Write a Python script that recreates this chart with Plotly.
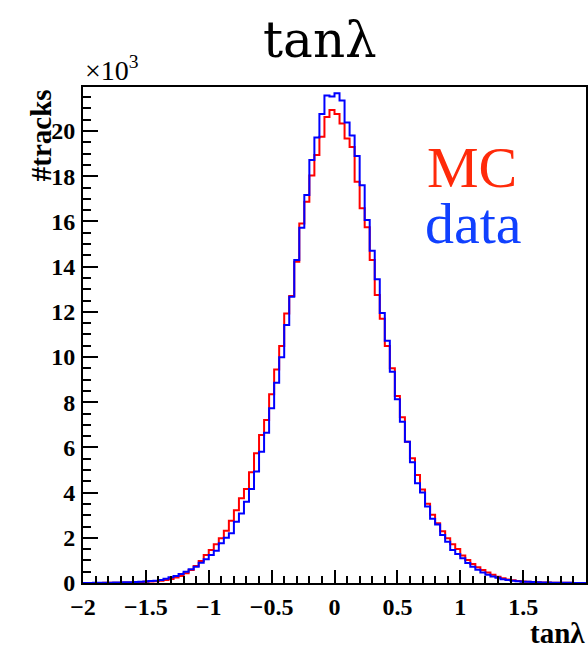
import numpy as np
import plotly.graph_objects as go

# histogram: 100 bins from -2 to 2, counts in units of 10^3 tracks
x_min = -2.0
x_max = 2.0
n_bins = 100

mc_counts = [
    0.002, 0.003, 0.004, 0.005, 0.007, 0.009, 0.012, 0.016, 0.02, 0.026,
    0.034, 0.044, 0.055, 0.065, 0.08, 0.10, 0.13, 0.18, 0.24, 0.31,
    0.43, 0.58, 0.75, 0.97, 1.24, 1.46, 1.71, 1.98, 2.31, 2.76,
    3.22, 3.75, 4.16, 4.90, 5.74, 6.55, 7.21, 8.35, 9.45, 10.49,
    11.93, 12.70, 14.22, 15.91, 16.87, 18.03, 18.94, 19.75, 20.62, 20.93,
    20.76, 20.34, 19.67, 19.30, 17.76, 16.58, 15.74, 14.29, 12.74, 11.69,
    10.49, 9.50, 8.28, 7.33, 6.25, 5.52, 4.78, 4.14, 3.51, 3.02,
    2.64, 2.29, 1.98, 1.72, 1.51, 1.22, 1.02, 0.84, 0.70, 0.57,
    0.46, 0.37, 0.28, 0.21, 0.16, 0.12, 0.09, 0.07, 0.055, 0.042,
    0.033, 0.026, 0.02, 0.016, 0.012, 0.009, 0.007, 0.005, 0.004, 0.003,
]

data_counts = [
    0.004, 0.005, 0.006, 0.008, 0.01, 0.013, 0.017, 0.022, 0.028, 0.036,
    0.045, 0.057, 0.07, 0.085, 0.10, 0.13, 0.19, 0.25, 0.31, 0.40,
    0.50, 0.61, 0.72, 0.90, 1.05, 1.24, 1.43, 1.76, 2.00, 2.20,
    2.71, 3.08, 3.60, 4.16, 4.93, 5.81, 6.65, 7.73, 8.86, 9.99,
    11.42, 12.67, 14.29, 15.72, 17.17, 18.72, 19.72, 20.76, 21.57, 21.53,
    21.67, 21.35, 20.38, 19.80, 18.90, 17.60, 16.06, 14.70, 13.44, 11.95,
    10.72, 9.35, 8.13, 7.14, 6.25, 5.34, 4.41, 4.00, 3.38, 2.84,
    2.59, 2.12, 1.83, 1.46, 1.28, 1.09, 0.88, 0.72, 0.59, 0.47,
    0.37, 0.29, 0.23, 0.17, 0.13, 0.10, 0.08, 0.06, 0.05, 0.04,
    0.03, 0.024, 0.019, 0.015, 0.011, 0.009, 0.007, 0.005, 0.004, 0.003,
]

y_max = 21.95

edges = np.linspace(x_min, x_max, n_bins + 1)

def steps(vals):
    return list(vals) + [vals[-1]]

SERIF = "Liberation Serif"

fig = go.Figure()
fig.add_trace(go.Scatter(x=edges, y=steps(mc_counts), mode="lines",
                         line=dict(color="#ff0000", width=2, shape="hv"),
                         name="MC", showlegend=False, hoverinfo="skip"))
fig.add_trace(go.Scatter(x=edges, y=steps(data_counts), mode="lines",
                         line=dict(color="#0000ff", width=2, shape="hv"),
                         name="data", showlegend=False, hoverinfo="skip"))

fig.update_layout(
    width=588, height=650,
    margin=dict(l=83, r=0, t=87, b=67),
    paper_bgcolor="white", plot_bgcolor="white",
    xaxis=dict(
        range=[x_min, x_max], showgrid=False, zeroline=False,
        showline=True, linecolor="black", linewidth=2, mirror=True,
        ticks="inside", ticklen=13, tickwidth=2, tickcolor="black",
        dtick=0.5, tick0=0,
        minor=dict(ticks="inside", ticklen=7, tickwidth=2, dtick=0.1, tickcolor="black", showgrid=False),
        tickfont=dict(family=SERIF, size=24, color="black", weight="bold"),
        ticklabelstandoff=1,
    ),
    yaxis=dict(
        range=[0, y_max], showgrid=False, zeroline=False,
        showline=True, linecolor="black", linewidth=2, mirror=True,
        ticks="inside", ticklen=15, tickwidth=2, tickcolor="black",
        dtick=2, tick0=0,
        minor=dict(ticks="inside", ticklen=8, tickwidth=2, dtick=0.5, tickcolor="black", showgrid=False),
        tickfont=dict(family=SERIF, size=24, color="black", weight="bold"),
        ticklabelstandoff=1,
    ),
)

annotations = [
    dict(text="tanλ", x=(321 - 83) / 505, y=1 + (87 - 40) / 496, xref="paper", yref="paper",
         xanchor="center", yanchor="middle", showarrow=False,
         font=dict(family="DejaVu Serif", size=50, color="black")),
    dict(text="×10<sup>3</sup>", x=0, y=1, xref="paper", yref="paper",
         xanchor="left", yanchor="bottom", yshift=-1, showarrow=False,
         font=dict(family=SERIF, size=28, color="black")),
    dict(text="#tracks", x=(41 - 83) / 505, y=1, xref="paper", yref="paper",
         xanchor="center", yanchor="top", textangle=-90, showarrow=False,
         font=dict(family=SERIF, size=29, color="black", weight="bold")),
    dict(text="tanλ", x=(530 - 83) / 505, y=-(633 - 583) / 496, xref="paper", yref="paper",
         xanchor="left", yanchor="middle", showarrow=False,
         font=dict(family=SERIF, size=29, color="black", weight="bold")),
    dict(text="MC", x=(426 - 83) / 505, y=1 - (167 - 87) / 496, xref="paper", yref="paper",
         xanchor="left", yanchor="middle", showarrow=False,
         font=dict(family=SERIF, size=58, color="#ff2a0a")),
    dict(text="data", x=(424 - 83) / 505, y=1 - (224 - 87) / 496, xref="paper", yref="paper",
         xanchor="left", yanchor="middle", showarrow=False,
         font=dict(family=SERIF, size=58, color="#1040ff")),
]
fig.update_layout(annotations=annotations)

fig.write_html("out.html")
